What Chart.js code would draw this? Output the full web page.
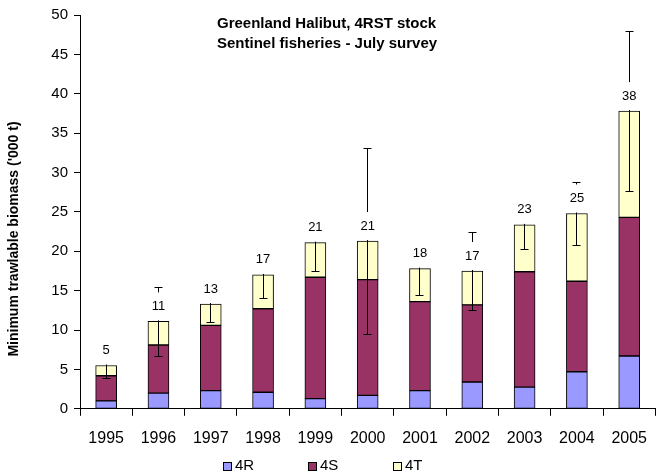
<!DOCTYPE html>
<html>
<head>
<meta charset="utf-8">
<script src="https://cdn.jsdelivr.net/npm/chart.js@4.4.0/dist/chart.umd.min.js"></script>
<style>
  body { margin: 0; background: #fff; }
  #wrap { width: 660px; height: 473px; }
</style>
</head>
<body>
<div id="wrap"><canvas id="myChart" width="660" height="473"></canvas></div>
<script>
// Dados (milhares de t)
const years = ['1995', '1996', '1997', '1998', '1999', '2000', '2001', '2002', '2003', '2004', '2005'];
const biomass4R = [1.0, 2.0, 2.3, 2.1, 1.3, 1.7, 2.3, 3.4, 2.75, 4.7, 6.7];
const biomass4S = [3.2, 6.1, 8.3, 10.6, 15.4, 14.7, 11.3, 9.8, 14.65, 11.5, 17.6];
const biomass4T = [1.3, 3.0, 2.7, 4.3, 4.4, 4.9, 4.2, 4.3, 5.95, 8.6, 13.5];
const errorTotal = [1.6, 4.4, 2.3, 2.9, 3.6, 11.8, 3.4, 5.0, 3.1, 4.0, 10.2];
const totalLabels = ['5', '11', '13', '17', '21', '21', '18', '17', '23', '25', '38'];
const yTicks = [0, 5, 10, 15, 20, 25, 30, 35, 40, 45, 50];

const FONT = '"Liberation Sans", Arial, Helvetica, sans-serif';
Chart.defaults.color = '#000';
Chart.defaults.font.family = FONT;
Chart.defaults.font.size = 14;

// Barras de erro + rótulos dos totais
const errorAndLabels = {
    id: 'errorAndLabels',
    afterDatasetsDraw(chart) {
        const ctx = chart.ctx;
        const y = chart.scales.y;
        const meta = chart.getDatasetMeta(2);
        ctx.save();
        ctx.strokeStyle = '#000';
        ctx.lineWidth = 1;
        meta.data.forEach((bar, i) => {
            const total = biomass4R[i] + biomass4S[i] + biomass4T[i];
            const x = Math.floor(bar.x) + 0.5;
            const yHi = Math.round(y.getPixelForValue(total + errorTotal[i])) + 0.5;
            const yLo = Math.round(y.getPixelForValue(total - errorTotal[i])) + 0.5;
            ctx.beginPath();
            ctx.moveTo(x, yHi); ctx.lineTo(x, yLo);
            ctx.moveTo(x - 4, yHi); ctx.lineTo(x + 4, yHi);
            ctx.moveTo(x - 4, yLo); ctx.lineTo(x + 4, yLo);
            ctx.stroke();
        });
        // rótulos com fundo branco
        ctx.font = '13px ' + FONT;
        ctx.textAlign = 'center';
        ctx.textBaseline = 'middle';
        meta.data.forEach((bar, i) => {
            const total = biomass4R[i] + biomass4S[i] + biomass4T[i];
            const top = y.getPixelForValue(total);
            ctx.fillStyle = '#fff';
            ctx.fillRect(bar.x - 12, top - 29, 24, 28);
            ctx.fillStyle = '#000';
            ctx.fillText(totalLabels[i], bar.x, top - 15);
        });
        ctx.restore();
    }
};

// Título interno, título do eixo Y e legenda
const textBoxes = {
    id: 'textBoxes',
    afterDraw(chart) {
        const ctx = chart.ctx;
        ctx.save();
        ctx.fillStyle = '#000';
        ctx.font = 'bold 15px ' + FONT;
        ctx.textAlign = 'left';
        ctx.textBaseline = 'middle';
        ctx.fillText('Greenland Halibut, 4RST stock', 217, 24);
        ctx.fillText('Sentinel fisheries - July survey', 217, 44);

        // legenda
        ctx.font = '15px ' + FONT;
        chart.data.datasets.forEach((ds, i) => {
            const lx = 223 + i * 85;
            ctx.fillStyle = ds.backgroundColor;
            ctx.fillRect(lx, 462, 8, 8);
            ctx.strokeStyle = '#000';
            ctx.lineWidth = 1;
            ctx.strokeRect(lx + 0.5, 462.5, 8, 8);
            ctx.fillStyle = '#000';
            ctx.fillText(ds.label, lx + 12, 466);
        });

        ctx.font = 'bold 14px ' + FONT;
        ctx.translate(14, 239);
        ctx.rotate(-Math.PI / 2);
        ctx.textAlign = 'center';
        ctx.fillText("Minimum trawlable biomass ('000 t)", 0, 0);
        ctx.restore();
    }
};

const ctx = document.getElementById('myChart').getContext('2d');
const myChart = new Chart(ctx, {
    type: 'bar',
    data: {
        labels: years,
        datasets: [
            { label: '4R', data: biomass4R, backgroundColor: '#9999FF' },
            { label: '4S', data: biomass4S, backgroundColor: '#993366' },
            { label: '4T', data: biomass4T, backgroundColor: '#FFFFCC' }
        ].map(ds => Object.assign(ds, {
            borderColor: '#000',
            borderWidth: 1,
            borderSkipped: false,
            barThickness: 21
        }))
    },
    options: {
        responsive: false,
        animation: false,
        layout: { padding: { top: 10, right: -3, left: 0, bottom: 12 } },
        scales: {
            x: {
                stacked: true,
                grid: { drawOnChartArea: false, offset: true, color: '#000', tickLength: 7 },
                border: { color: '#000' },
                ticks: { padding: 13, maxRotation: 0, font: { size: 16 } }
            },
            y: {
                stacked: true,
                min: 0,
                max: 50,
                afterBuildTicks: scale => { scale.ticks = yTicks.map(v => ({ value: v })); },
                afterFit: scale => { scale.width = 80; },
                grid: { drawOnChartArea: false, color: '#000', tickLength: 6 },
                border: { color: '#000' },
                ticks: { padding: 6, font: { size: 15 } }
            }
        },
        plugins: {
            legend: { display: false },
            tooltip: { enabled: false }
        }
    },
    plugins: [errorAndLabels, textBoxes]
});
</script>
</body>
</html>
